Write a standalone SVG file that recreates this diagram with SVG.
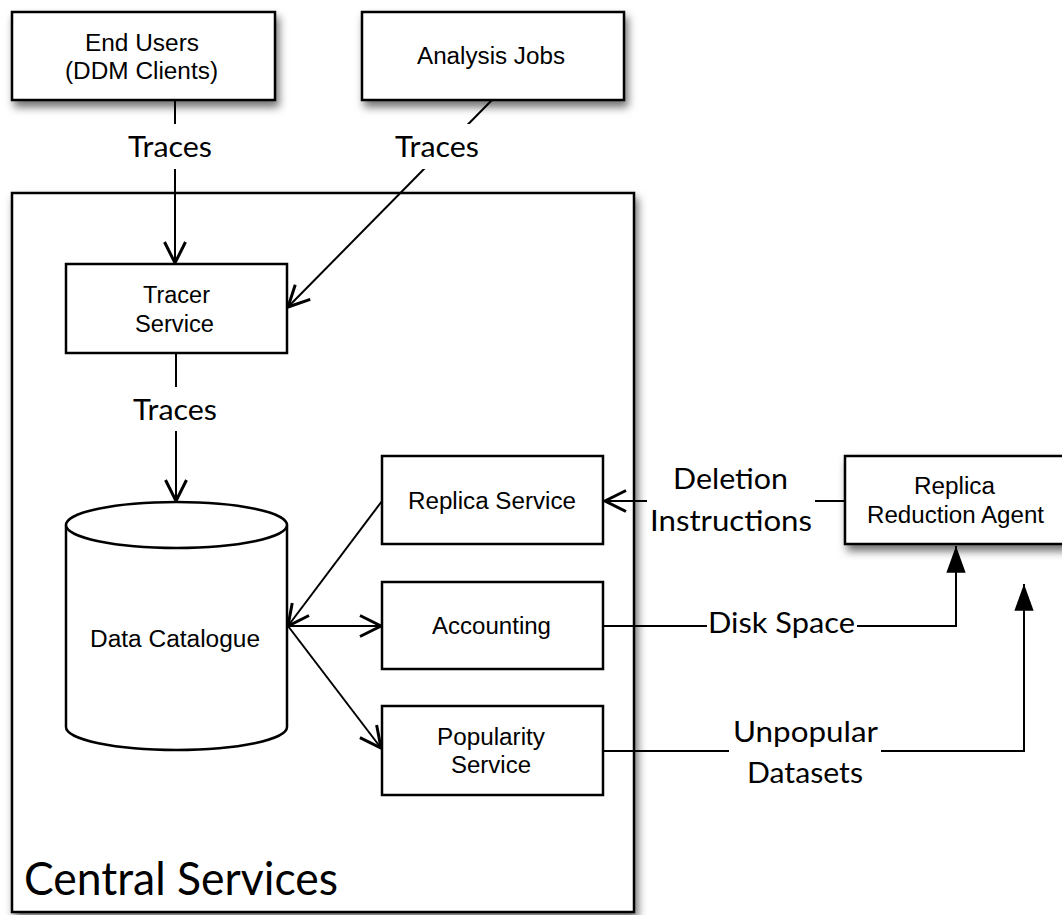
<svg xmlns="http://www.w3.org/2000/svg" width="1062" height="915" viewBox="0 0 1062 915">
  <defs>
    <filter id="shadow" x="-10%" y="-10%" width="130%" height="140%">
      <feDropShadow dx="3" dy="6" stdDeviation="4" flood-color="#000" flood-opacity="0.55"/>
    </filter>
    <marker id="open" markerUnits="userSpaceOnUse" markerWidth="30" markerHeight="30" viewBox="-16 -10 20 20" refX="0" refY="0" orient="auto" overflow="visible">
      <path d="M-14,-7 L0,0 L-14,7" fill="none" stroke="#000" stroke-width="2"/>
    </marker>
    <marker id="solid" markerUnits="userSpaceOnUse" markerWidth="30" markerHeight="30" viewBox="-26 -10 28 20" refX="0" refY="0" orient="auto" overflow="visible">
      <path d="M-25,-9 L0,0 L-25,9 Z" fill="#000"/>
    </marker>
  </defs>
  <style>
    .box { fill: #fff; stroke: #000; stroke-width: 2.5; }
    .line { fill: none; stroke: #000; stroke-width: 2; }
    .node { font-family: "Liberation Sans", Arial, sans-serif; font-size: 23px; fill: #000; text-anchor: middle; }
    .lbl { font-family: Lato, "Open Sans", sans-serif; font-size: 29px; fill: #000; text-anchor: middle; }
    .bg { fill: #fff; }
  </style>

  <rect width="1062" height="915" fill="#fff"/>

  <!-- Central Services container -->
  <g id="central-services">
    <rect class="box" x="12" y="193" width="622" height="719" filter="url(#shadow)"/>
    <text x="181" y="895" font-family="Lato, 'Open Sans', sans-serif" font-size="46" fill="#000" text-anchor="middle" textLength="314" lengthAdjust="spacingAndGlyphs">Central Services</text>
  </g>

  <!-- Connectors and their labels -->
  <g id="connectors">
    <line class="line" x1="175" y1="100" x2="175" y2="263" marker-end="url(#open)"/>
    <line class="line" x1="492" y1="100" x2="288" y2="307" marker-end="url(#open)"/>
    <line class="line" x1="176" y1="353" x2="176" y2="501" marker-end="url(#open)"/>
    <line class="line" x1="382" y1="501" x2="288" y2="626" marker-end="url(#open)"/>
    <line class="line" x1="288" y1="626" x2="381" y2="626" marker-end="url(#open)"/>
    <line class="line" x1="288" y1="626" x2="381" y2="748" marker-end="url(#open)"/>
    <line class="line" x1="845" y1="501" x2="605" y2="501" marker-end="url(#open)"/>
    <path class="line" d="M604,626 H956 V546" marker-end="url(#solid)"/>
    <path class="line" d="M604,751 H1024 V584" marker-end="url(#solid)"/>

    <rect class="bg" x="126" y="124" width="90" height="45"/>
    <text class="lbl" x="170" y="157" textLength="84" lengthAdjust="spacingAndGlyphs">Traces</text>
    <rect class="bg" x="393" y="124" width="89" height="45"/>
    <text class="lbl" x="437" y="157" textLength="84" lengthAdjust="spacingAndGlyphs">Traces</text>
    <rect class="bg" x="131" y="387" width="90" height="44"/>
    <text class="lbl" x="175" y="420" textLength="84" lengthAdjust="spacingAndGlyphs">Traces</text>

    <rect class="bg" x="647" y="457" width="168" height="86"/>
    <text class="lbl" x="730.5" y="489" textLength="115" lengthAdjust="spacingAndGlyphs">Deletion</text>
    <text class="lbl" x="731" y="531" textLength="162" lengthAdjust="spacingAndGlyphs">Instructions</text>

    <rect class="bg" x="707" y="606" width="150" height="36"/>
    <text class="lbl" x="781.5" y="633" textLength="147" lengthAdjust="spacingAndGlyphs">Disk Space</text>

    <rect class="bg" x="729" y="712" width="152" height="82"/>
    <text class="lbl" x="805.5" y="742" textLength="145" lengthAdjust="spacingAndGlyphs">Unpopular</text>
    <text class="lbl" x="805" y="783" textLength="116" lengthAdjust="spacingAndGlyphs">Datasets</text>
  </g>

  <g id="end-users">
    <rect class="box" x="12" y="12" width="263" height="88" filter="url(#shadow)"/>
    <text class="node" x="142" y="51" textLength="114" lengthAdjust="spacingAndGlyphs">End Users</text>
    <text class="node" x="141.5" y="79" textLength="153" lengthAdjust="spacingAndGlyphs">(DDM Clients)</text>
  </g>

  <g id="analysis-jobs">
    <rect class="box" x="362" y="12" width="262" height="88" filter="url(#shadow)"/>
    <text class="node" x="491" y="64" textLength="148" lengthAdjust="spacingAndGlyphs">Analysis Jobs</text>
  </g>

  <g id="tracer-service">
    <rect class="box" x="66" y="264" width="221" height="89"/>
    <text class="node" x="176.5" y="303" textLength="67" lengthAdjust="spacingAndGlyphs">Tracer</text>
    <text class="node" x="174.5" y="332" textLength="79" lengthAdjust="spacingAndGlyphs">Service</text>
  </g>

  <g id="data-catalogue">
    <path class="box" d="M66,525 V727 A110.5,23 0 0 0 287,727 V525"/>
    <ellipse class="box" cx="176.5" cy="525" rx="110.5" ry="23"/>
    <text class="node" x="175" y="647" textLength="170" lengthAdjust="spacingAndGlyphs">Data Catalogue</text>
  </g>

  <g id="replica-service">
    <rect class="box" x="382" y="456" width="221" height="88"/>
    <text class="node" x="492" y="509" textLength="168" lengthAdjust="spacingAndGlyphs">Replica Service</text>
  </g>

  <g id="accounting">
    <rect class="box" x="382" y="582" width="221" height="87"/>
    <text class="node" x="491.5" y="634" textLength="119" lengthAdjust="spacingAndGlyphs">Accounting</text>
  </g>

  <g id="popularity-service">
    <rect class="box" x="382" y="706" width="221" height="89"/>
    <text class="node" x="491" y="745" textLength="108" lengthAdjust="spacingAndGlyphs">Popularity</text>
    <text class="node" x="491" y="773" textLength="80" lengthAdjust="spacingAndGlyphs">Service</text>
  </g>

  <g id="replica-reduction-agent">
    <rect class="box" x="845" y="456" width="222" height="88" filter="url(#shadow)"/>
    <text class="node" x="954.5" y="494" textLength="81" lengthAdjust="spacingAndGlyphs">Replica</text>
    <text class="node" x="955.5" y="523" textLength="177" lengthAdjust="spacingAndGlyphs">Reduction Agent</text>
  </g>
</svg>
